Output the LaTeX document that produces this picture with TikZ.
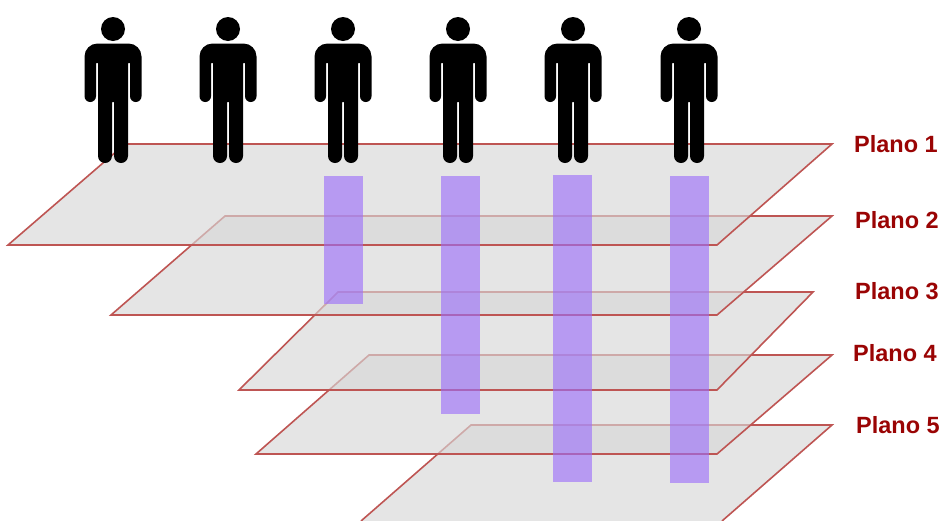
\documentclass[tikz,border=0pt]{standalone}
\usepackage{fontspec}
\setmainfont{Liberation Sans}
\definecolor{planeline}{RGB}{190,85,83}
\definecolor{planefill}{RGB}{215,215,215}
\definecolor{barfill}{RGB}{155,110,250}
\definecolor{planotext}{RGB}{154,4,4}
\tikzset{
	plane/.style={draw=planeline, line width=1.6pt, fill=planefill, fill opacity=0.65, line join=miter},
	bar/.style={fill=barfill, fill opacity=0.62},
	planolabel/.style={text=planotext, font=\bfseries\fontsize{23.5}{23.5}\selectfont, inner sep=0pt, anchor=west},
	person/.pic={
		\fill (0,29) circle (12);
		\fill (-28.5,96.25) arc[start angle=180, end angle=0, radius=5.75] -- (-17,63) -- (-15,63) -- (-15,156)
			arc[start angle=180, end angle=0, radius=7] -- (-1,102) -- (1,102) -- (1,156)
			arc[start angle=180, end angle=0, radius=7] -- (15,63) -- (17,63) -- (17,96.25)
			arc[start angle=180, end angle=0, radius=5.75] -- (28.5,56.5)
			arc[start angle=0, end angle=-90, radius=13] -- (-15.5,43.5)
			arc[start angle=-90, end angle=-180, radius=13] -- cycle;
	}
}
\begin{document}
\begin{tikzpicture}[x=1pt, y=-1pt]
	\clip (0,0) rectangle (940,520);
	% planes, lowest first
	\draw[plane] (361,521) -- (471,425) -- (832,425) -- (722,521);
	\draw[plane] (256,454) -- (369,355) -- (832,355) -- (717,454) -- cycle;
	\draw[plane] (239,390) -- (338,292) -- (813,292) -- (717,390) -- cycle;
	\draw[plane] (111,315) -- (225,216) -- (832,216) -- (717,315) -- cycle;
	\draw[plane] (8,245) -- (125,144) -- (832,144) -- (717,245) -- cycle;
	% bars
	\fill[bar] (324,176) rectangle (363,304);
	\fill[bar] (441,176) rectangle (480,414);
	\fill[bar] (553,175) rectangle (592,482);
	\fill[bar] (670,176) rectangle (709,483);
	% people
	\foreach \px in {113,228,343,458,573,689}
		\pic at (\px,0) {person};
	% labels
	\node[planolabel] (plano1) at (854,144) {Plano 1};
	\node[planolabel] (plano2) at (855,220) {Plano 2};
	\node[planolabel] (plano3) at (855,291) {Plano 3};
	\node[planolabel] (plano4) at (853,353) {Plano 4};
	\node[planolabel] (plano5) at (856,425) {Plano 5};
\end{tikzpicture}
\end{document}
